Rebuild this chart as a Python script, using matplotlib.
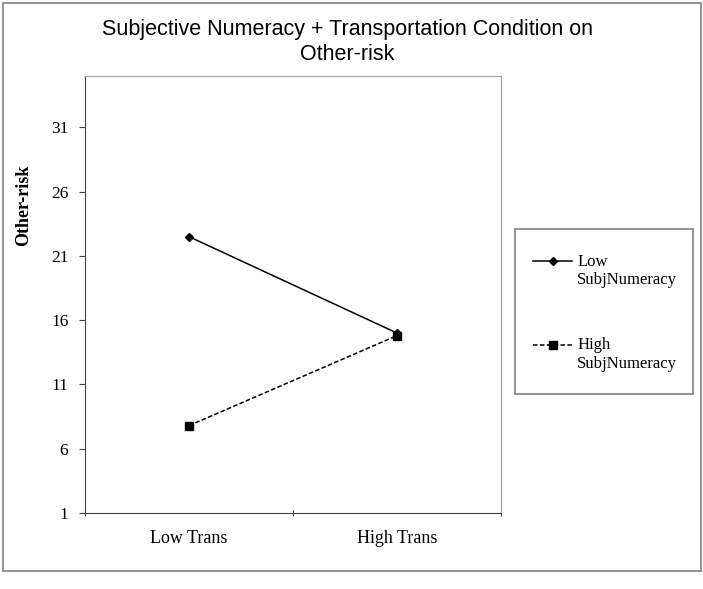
import matplotlib.pyplot as plt
import matplotlib.transforms as mtransforms
from matplotlib.legend_handler import HandlerLine2D
from matplotlib.patches import Rectangle

# data
categories = ['Low Trans', 'High Trans']
low_numeracy = [22.5, 15.0]
high_numeracy = [7.8, 14.8]
y_ticks = [1, 6, 11, 16, 21, 26, 31]

W, H = 703, 589
fig = plt.figure(figsize=(W / 100, H / 100), dpi=100)


def px_box(x0, y0, x1, y1):
    # pixel box (top-left origin) -> figure fraction rect
    return [x0 / W, 1 - y1 / H, (x1 - x0) / W, (y1 - y0) / H]


def px_rect(x0, y0, x1, y1, color):
    return Rectangle((x0 / W, 1 - y1 / H), (x1 - x0) / W, (y1 - y0) / H,
                     transform=fig.transFigure, fill=False,
                     edgecolor=color, linewidth=1.2)


class RaisedHandler(HandlerLine2D):
    # put the legend handle level with the first line of a two-line label
    def create_artists(self, legend, orig_handle, xdescent, ydescent,
                       width, height, fontsize, trans):
        shift = mtransforms.Affine2D().translate(0, 0.6 * fontsize)
        return super().create_artists(legend, orig_handle, xdescent, ydescent,
                                      width, height, fontsize, shift + trans)


# outer chart border and legend frame
fig.patches.append(px_rect(3, 3, 701, 571, '#808080'))
fig.patches.append(px_rect(515, 229, 693, 394, '#808080'))

ax = fig.add_axes(px_box(85, 76, 501, 513))
x = [0.5, 1.5]
ax.plot(x, low_numeracy, color='black', linestyle='-', linewidth=1.1,
        marker='D', markersize=4.5, label='Low\nSubjNumeracy')
ax.plot(x, high_numeracy, color='black', linestyle=(0, (3, 1.5)), linewidth=1.1,
        marker='s', markersize=6, label='High\nSubjNumeracy')

ax.set_xlim(0, 2)
ax.set_ylim(1, 35)
ax.set_yticks(y_ticks)
ax.set_xticks([0, 1, 2])
ax.set_xticklabels([])
ax.set_xticks(x, minor=True)
ax.set_xticklabels(categories, minor=True, family='Liberation Serif', fontsize=13)
ax.tick_params(axis='x', which='minor', length=0, pad=12)
ax.tick_params(axis='x', which='major', length=5, direction='inout', color='#404040')
ax.tick_params(axis='y', length=4, direction='out', color='#404040', pad=8)
for lab in ax.get_yticklabels():
    lab.set_family('Liberation Serif')
    lab.set_fontsize(12.5)

for side in ['top', 'right']:
    ax.spines[side].set_color('#a0a0a0')
for side in ['left', 'bottom']:
    ax.spines[side].set_color('#404040')

ax.set_ylabel('Other-risk', family='Liberation Serif', fontweight='bold', fontsize=13)
ax.yaxis.set_label_coords(-0.127, 0.705)

fig.text(347 / W, 1 - 41.5 / H, 'Subjective Numeracy + Transportation Condition on\nOther-risk',
         ha='center', va='center', family='Liberation Sans', fontsize=15.5, linespacing=1.25)

leg = fig.legend(loc='upper left', bbox_to_anchor=(533 / W, 1 - 254 / H),
                 prop={'family': 'Liberation Serif', 'size': 12},
                 frameon=False, handlelength=2.35, labelspacing=2.94,
                 borderpad=0, borderaxespad=0, handletextpad=0.3,
                 handler_map={plt.Line2D: RaisedHandler()})

fig.savefig('out.png', dpi=100)
